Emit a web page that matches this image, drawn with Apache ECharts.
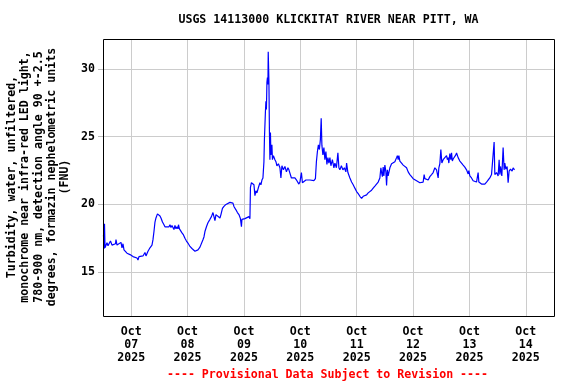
<!DOCTYPE html>
<html>
<head>
<meta charset="utf-8">
<script src="https://cdn.jsdelivr.net/npm/echarts@6/dist/echarts.min.js"></script>
<style>
html,body{margin:0;padding:0;background:#fff;}
#chart{width:576px;height:384px;}
</style>
</head>
<body>
<div id="chart"></div>
<script>
// Hours since 2025-10-07 00:00 (local) and turbidity values (FNU)
const hours = [
0.21,0.43,0.64,0.85,1.28,1.70,2.13,2.55,3.19,3.83,4.68,5.32,5.53,5.96,6.81,7.66,8.09,8.51,8.94,9.79,
10.21,10.64,11.06,11.49,11.91,12.77,13.62,14.47,14.89,15.32,16.17,17.02,17.87,18.30,19.15,20.00,20.85,21.28,21.70,22.13,
22.55,23.19,23.62,24.26,24.68,25.32,25.96,26.38,27.23,28.09,28.51,28.94,29.36,29.79,30.21,30.64,31.06,31.49,31.91,32.13,
32.55,32.98,33.62,34.26,34.89,35.53,36.17,37.02,37.87,38.30,39.15,39.79,40.43,41.28,41.91,42.55,42.98,43.40,44.04,44.68,
45.53,46.17,46.81,47.23,47.66,48.09,48.94,49.79,50.21,50.85,51.49,52.34,53.19,54.04,54.68,55.32,55.74,56.17,56.60,57.23,
57.87,58.51,58.94,59.15,59.57,60.43,61.28,62.13,62.55,62.77,63.19,63.83,64.26,64.68,65.11,65.53,66.17,66.81,67.23,67.66,
68.09,68.30,68.51,68.72,69.15,69.36,69.57,69.79,70.00,70.21,70.34,70.64,70.85,71.06,71.28,71.49,71.91,72.13,72.55,73.19,
73.62,74.04,74.68,75.32,75.74,76.17,76.81,77.45,78.09,78.72,79.15,79.57,80.21,80.85,81.70,82.55,83.40,83.83,84.47,84.89,
85.53,86.38,87.23,88.09,88.94,89.79,90.43,90.85,91.28,91.70,92.13,92.55,92.89,93.19,93.62,94.04,94.47,94.89,95.32,95.74,
96.17,96.60,97.02,97.66,98.30,98.72,99.36,100.00,100.43,100.85,101.49,102.13,102.77,103.40,103.70,104.26,105.11,105.83,106.51,107.23,
107.96,108.64,109.36,110.09,110.77,111.49,112.21,112.89,113.62,114.34,115.02,115.74,116.47,117.15,117.87,118.30,118.60,118.94,119.28,119.57,
120.00,120.43,120.72,121.06,121.40,122.13,122.85,123.53,124.26,124.98,125.32,125.66,125.96,126.38,127.11,127.79,128.51,129.23,129.91,130.64,
131.36,132.04,132.77,133.49,134.17,134.89,135.62,136.30,136.72,137.02,137.74,138.43,139.15,139.87,140.55,141.28,142.00,142.68,142.98,143.40,
143.83,144.26,144.81,145.53,146.26,146.60,146.94,147.23,147.66,148.09,148.38,148.72,149.06,149.79,150.21,150.51,151.19,151.91,152.64,153.32,
154.04,154.77,155.45,155.74,156.17,156.89,157.57,158.30,159.02,159.70,160.00,160.43,161.15,161.83,162.55,163.28,163.96,164.68,165.40,166.09,
166.51,166.81,167.53,168.21,168.64,168.94,169.23,169.79,170.34,170.77,171.06,171.49,172.04,172.47,172.89,173.49,174.17,174.60,175.19
];
const turbidity = [
17.75,16.72,18.57,16.8,16.87,17.17,16.95,17.1,17.3,17.0,17.0,17.1,17.4,17.0,17.05,17.2,16.8,17.1,16.65,16.55,
16.4,16.3,16.5,16.3,16.35,16.15,16.05,16.05,15.9,16.15,16.15,16.2,16.45,16.2,16.55,16.8,17.0,17.4,18.0,18.7,
19.0,19.3,19.4,19.15,19.0,18.7,18.5,18.35,18.45,18.35,18.5,18.3,18.45,18.45,18.15,18.45,18.2,18.35,18.2,18.5,
18.2,18.1,17.9,17.75,17.5,17.3,17.15,16.9,16.75,16.85,16.55,16.5,16.65,16.85,16.9,17.4,17.6,18.0,18.35,18.65,
18.9,19.1,19.4,19.45,18.8,19.25,19.15,19.0,19.25,19.7,19.85,20.0,20.05,20.15,20.25,20.1,19.85,19.85,19.6,19.4,
19.25,18.95,18.35,18.9,19.0,18.95,19.0,19.1,18.95,21.25,21.6,21.65,21.45,20.65,21.0,20.85,21.25,21.6,21.45,21.8,
21.95,22.55,23.15,24.8,26.85,27.6,27.0,29.0,29.35,28.85,31.25,29.05,25.4,23.3,25.3,23.65,24.4,23.3,23.6,23.3,
23.15,22.85,23.0,22.7,21.95,22.85,22.55,22.8,22.4,22.7,22.55,22.55,21.95,22.05,21.95,21.75,21.5,21.65,22.35,21.6,
21.65,21.8,21.8,21.8,21.75,21.75,21.9,23.15,23.9,24.4,24.05,24.8,26.35,24.35,23.65,24.2,23.3,23.9,22.95,23.45,
23.05,23.45,22.85,23.3,22.7,23.05,22.7,23.8,22.7,22.55,22.85,22.55,22.7,22.4,23.05,22.35,21.95,21.65,21.45,21.2,
20.95,20.8,20.6,20.45,20.6,20.7,20.7,20.85,20.95,21.05,21.2,21.35,21.45,21.65,21.95,22.7,22.35,22.05,22.75,22.1,
22.9,22.4,21.4,22.55,22.1,22.7,23.0,23.0,23.15,23.45,23.6,23.3,23.6,23.2,23.05,22.9,22.85,22.7,22.4,22.2,
22.05,21.9,21.8,21.75,21.65,21.6,21.6,21.65,22.2,21.9,21.8,21.8,22.05,22.2,22.35,22.7,22.55,21.95,22.7,23.0,
24.05,23.05,23.3,23.45,23.6,23.3,23.45,23.05,23.75,23.3,23.8,23.2,23.35,23.3,23.65,23.8,23.45,23.2,23.05,22.9,
22.75,22.55,22.25,22.5,22.1,21.95,21.75,21.8,21.65,22.35,21.65,21.6,21.5,21.45,21.5,21.65,21.8,21.95,22.2,22.1,
24.6,22.2,22.35,22.1,23.3,22.2,22.8,22.1,24.2,22.55,23.05,22.6,22.8,21.6,22.45,22.6,22.45,22.7,22.55
];
const dayLabels = ['Oct\n07\n2025','Oct\n08\n2025','Oct\n09\n2025','Oct\n10\n2025','Oct\n11\n2025','Oct\n12\n2025','Oct\n13\n2025','Oct\n14\n2025'];
const titleText = 'USGS 14113000 KLICKITAT RIVER NEAR PITT, WA';
const yName = 'Turbidity, water, unfiltered,\nmonochrome near infra-red LED light,\n780-900 nm, detection angle 90 +-2.5\ndegrees, formazin nephelometric units\n(FNU)';
const footer = '---- Provisional Data Subject to Revision ----';

const FONT = '"DejaVu Sans Mono", monospace';
const data = hours.map((h, i) => [h, turbidity[i]]);

const chart = echarts.init(document.getElementById('chart'), null, {renderer: 'canvas'});
chart.setOption({
  animation: false,
  backgroundColor: '#ffffff',
  grid: {left: 103, top: 39, width: 451, height: 277, show: false},
  xAxis: [{
    type: 'value', min: 0, max: 192, interval: 12,
    axisLine: {show: false},
    axisTick: {show: false},
    splitLine: {show: true, showMinLine: false, showMaxLine: false, lineStyle: {color: ['#cccccc', 'rgba(0,0,0,0)'], width: 1}},
    axisLabel: {
      show: true, margin: 10, color: '#000',
      fontFamily: FONT, fontWeight: 'bold', fontSize: 11.6, lineHeight: 12.6,
      formatter: function (v) { return (v % 24 === 12) ? dayLabels[(v - 12) / 24] : ''; }
    }
  }],
  yAxis: {
    type: 'value', min: 11.77, max: 32.2,
    axisLine: {show: false},
    axisTick: {show: true, length: 5, lineStyle: {color: '#bbbbbb'}},
    splitLine: {show: true, showMinLine: false, showMaxLine: false, lineStyle: {color: '#cccccc', width: 1}},
    axisLabel: {
      showMinLabel: false, showMaxLabel: false, margin: 8, color: '#000',
      fontFamily: FONT, fontWeight: 'bold', fontSize: 11.6
    }
  },
  graphic: [
    {type: 'rect', z: 100, shape: {x: 103.5, y: 39.5, width: 451, height: 277}, style: {fill: 'none', stroke: '#000', lineWidth: 1}, silent: true},
    {type: 'text', x: 328.5, y: 20, style: {text: titleText, font: 'bold 11.6px ' + FONT, fill: '#000', textAlign: 'center', textVerticalAlign: 'middle'}},
    {type: 'text', x: 38.5, y: 177, rotation: Math.PI / 2, style: {text: yName, font: 'bold 11.6px ' + FONT, fill: '#000', textAlign: 'center', textVerticalAlign: 'middle', lineHeight: 13.3}},
    {type: 'text', x: 327.5, y: 375, style: {text: footer, font: 'bold 11.6px ' + FONT, fill: '#ff0000', textAlign: 'center', textVerticalAlign: 'middle'}}
  ],
  series: [{
    type: 'line', data: data, showSymbol: false, symbol: 'none',
    lineStyle: {color: '#0000ff', width: 1.2}, itemStyle: {color: '#0000ff'},
    silent: true, z: 3
  }]
});
</script>
</body>
</html>
